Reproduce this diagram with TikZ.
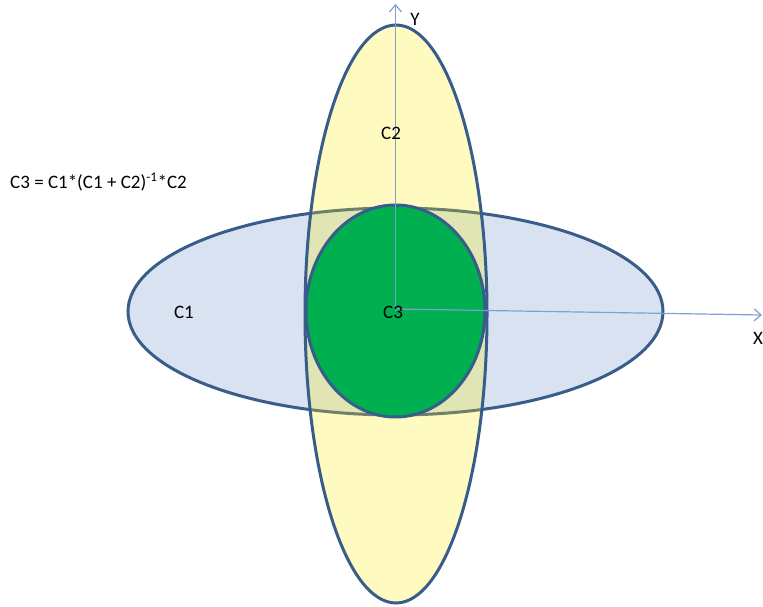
\documentclass[tikz,border=0pt]{standalone}
\usepackage{fontspec}
\setmainfont{Carlito}
\usetikzlibrary{shapes.geometric,arrows.meta}
\definecolor{cblue}{HTML}{D9E2F1}
\definecolor{cyellow}{HTML}{FFFAC0}
\definecolor{colive}{HTML}{E1E5B3}
\definecolor{cborder}{HTML}{385D8A}
\definecolor{cborderfaded}{HTML}{6F806A}
\definecolor{cgreen}{HTML}{00B050}
\definecolor{caxis}{HTML}{7FA0D0}
\tikzset{
  ell/.style={ellipse, inner sep=0pt, line width=3pt, draw=cborder},
  axis/.style={draw=caxis, line width=1.2pt, -{Straight Barb[length=7pt,width=12pt]}},
  lbl/.style={font=\fontsize{19}{21}\selectfont, inner sep=0pt}
}
\begin{document}
\begin{tikzpicture}[x=1pt,y=-1pt]
\useasboundingbox (0,0) rectangle (763,607);
% C1 (horizontal)
\node[ell, fill=cblue, minimum width=535pt, minimum height=207pt] (c1) at (395.5,311.5) {};
% C2 (vertical) fill
\node[ellipse, inner sep=0pt, fill=cyellow, minimum width=182pt, minimum height=578pt] (c2) at (396,314) {};
% overlap
\begin{scope}
  \clip (395.5,311.5) ellipse [x radius=267.5pt, y radius=103.5pt];
  \fill[colive] (396,314) ellipse [x radius=91pt, y radius=289pt];
\end{scope}
\begin{scope}
  \clip (396,314) ellipse [x radius=91pt, y radius=289pt];
  \draw[cborderfaded, line width=3pt] (395.5,311.5) ellipse [x radius=267.5pt, y radius=103.5pt];
\end{scope}
\draw[cborder, line width=3pt] (396,314) ellipse [x radius=91pt, y radius=289pt];
% C3
\node[ell, fill=cgreen, minimum width=179pt, minimum height=212pt] (c3) at (395.5,311) {};
% axes
\coordinate (yend) at (395.5,4);
\coordinate (xend) at (762,315);
\draw[axis] (c3.center) -- (yend);
\draw[axis] (395.5,309) -- (xend);
% labels
\node[lbl] (l1) at (184,312) {C1};
\node[lbl] (l2) at (391,133) {C2};
\node[lbl] (l3) at (393,312) {C3};
\node[lbl] (lx) at (758,338) {X};
\node[lbl] (ly) at (415,19) {Y};
\node[lbl, anchor=west] (eq) at (10,182) {C3 = C1*(C1 + C2)\textsuperscript{-1}*C2};
\end{tikzpicture}
\end{document}
